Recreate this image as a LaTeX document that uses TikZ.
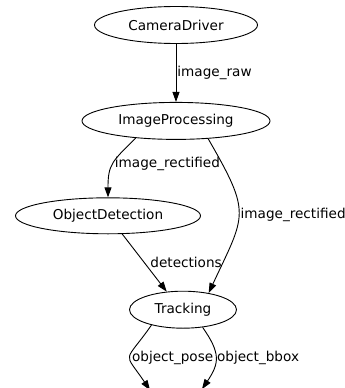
\documentclass[tikz,border=0pt]{standalone}
\usepackage{fontspec}
\setmainfont{DejaVu Sans}
\usetikzlibrary{shapes.geometric,positioning,arrows.meta}

\begin{document}
\begin{tikzpicture}[font=\fontsize{13.6}{16}\selectfont,line width=0.9pt,
    rosnode/.style={draw, ellipse, inner sep=0pt, minimum height=37pt},
    topic/.style={pos=0.5, right, inner sep=1.5pt},
    >={Triangle[length=10pt,width=7pt]}]

\useasboundingbox (0,0) rectangle (345pt,-388pt);

\node[rosnode,
    minimum width=163pt
] (camera) at (176pt,-25pt) { CameraDriver };

\node[rosnode,
    below=58pt of camera,
    minimum width=188pt
] (improc) { ImageProcessing };

\node[rosnode,
    below=57.5pt of improc,
    xshift=-68pt,
    minimum width=185pt,
    minimum height=36pt
] (objdet) { ObjectDetection };

\node[rosnode,
    below=56.5pt of objdet,
    xshift=75pt,
    minimum width=107pt
] (tracking) { Tracking };

\coordinate[below=61.5pt of tracking.south, xshift=-33pt] (pose);
\coordinate[below=60.5pt of tracking.south, xshift=19pt] (bbox);

\draw[->] (camera) -- (improc) node [topic,inner sep=1pt] { image\_raw };

\draw[->] (improc.-157) to[out=-135,in=90,looseness=1.3] node [topic] { image\_rectified } (objdet.north);
\draw[->] (improc.-29) to[out=-60,in=65,looseness=1.45] node [topic] { image\_rectified } (tracking.33);

\draw[->] (objdet.-52) -- (tracking.132) node [topic,xshift=4pt] { detections };

\draw[->] (tracking.-154) to[out=-125,in=124,looseness=1.9] node [topic] { object\_pose } (pose);
\draw[->] (tracking.-42) to[out=-55,in=56,looseness=1.3] node [topic,inner sep=1pt] { object\_bbox } (bbox);

\end{tikzpicture}
\end{document}
